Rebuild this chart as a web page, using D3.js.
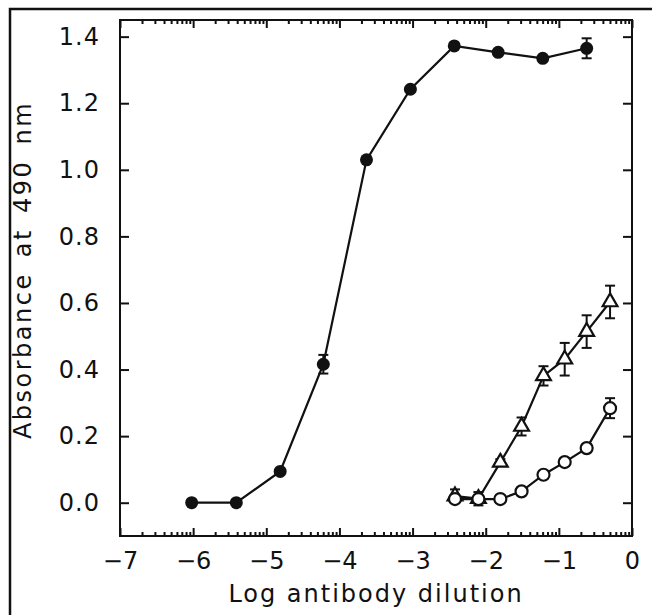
<!DOCTYPE html>
<html>
<head>
<meta charset="utf-8">
<script src="https://cdn.jsdelivr.net/npm/d3@7"></script>
<style>
  body { margin: 0; background: #fff; }
  text { font-family: "DejaVu Sans", sans-serif; fill: #111; }
</style>
</head>
<body>
<script>
// filled circles
var logDil1 = [-6.02, -5.41, -4.81, -4.22, -3.63, -3.03, -2.43, -1.83, -1.22, -0.62];
var absorb1 = [0.0, 0.0, 0.094, 0.416, 1.030, 1.242, 1.372, 1.353, 1.335, 1.365];
var err1    = [0, 0, 0, 0.028, 0, 0, 0, 0, 0, 0.03];

// open triangles
var logDil2 = [-2.42, -2.10, -1.80, -1.51, -1.21, -0.92, -0.62, -0.30];
var absorb2 = [0.02, 0.012, 0.121, 0.229, 0.381, 0.431, 0.514, 0.603];
var err2    = [0.02, 0.02, 0.01, 0.027, 0.029, 0.049, 0.049, 0.049];

// open circles
var logDil3 = [-2.42, -2.10, -1.80, -1.51, -1.21, -0.92, -0.62, -0.30];
var absorb3 = [0.011, 0.011, 0.011, 0.034, 0.084, 0.122, 0.164, 0.284];
var err3    = [0, 0, 0, 0.01, 0.01, 0.01, 0.01, 0.03];

var xTicks = [-7, -6, -5, -4, -3, -2, -1, 0];
var yTicks = [0.0, 0.2, 0.4, 0.6, 0.8, 1.0, 1.2, 1.4];

var xLabel = "Log antibody dilution";
var yLabel = "Absorbance at 490 nm";

function toPoints(xs, ys, es) {
  return xs.map(function(x, i) { return {x: x, y: ys[i], e: es[i]}; });
}

var series = [
  {points: toPoints(logDil1, absorb1, err1), shape: "filled"},
  {points: toPoints(logDil2, absorb2, err2), shape: "triangle"},
  {points: toPoints(logDil3, absorb3, err3), shape: "circle"}
];

var W = 652, H = 615;
var margin = {top: 20, right: 20, bottom: 79, left: 120};
var width = W - margin.left - margin.right;
var height = H - margin.top - margin.bottom;

var svg = d3.select("body").append("svg")
  .attr("width", W)
  .attr("height", H);

// outer frame of the scanned figure
svg.append("rect")
  .attr("x", 10).attr("y", 9)
  .attr("width", 800).attr("height", 800)
  .attr("fill", "none")
  .attr("stroke", "#111")
  .attr("stroke-width", 2.5);

var g = svg.append("g")
  .attr("transform", "translate(" + margin.left + "," + margin.top + ")");

var xScale = d3.scaleLinear().domain([-7, 0]).range([0, width]);
var yScale = d3.scaleLinear().domain([-0.1, 1.45]).range([height, 0]);

// minor ticks on x, log spaced inside each unit
var minorX = [];
for (var n = -7; n < 0; n++) {
  for (var k = 2; k <= 9; k++) minorX.push(n + Math.log10(k));
}

function styleAxis(sel) {
  sel.select(".domain").remove();
  sel.selectAll(".tick line").attr("stroke", "#111").attr("stroke-width", 2);
}

// bottom axis: major + minor ticks pointing in
g.append("g")
  .attr("transform", "translate(0," + height + ")")
  .call(d3.axisTop(xScale).tickValues(minorX).tickSize(4).tickFormat(""))
  .call(styleAxis);
g.append("g")
  .attr("transform", "translate(0," + height + ")")
  .call(d3.axisTop(xScale).tickValues(xTicks).tickSize(8).tickFormat(""))
  .call(styleAxis);
// bottom labels
g.append("g")
  .attr("transform", "translate(0," + height + ")")
  .call(d3.axisBottom(xScale).tickValues(xTicks).tickSize(0).tickPadding(16)
    .tickFormat(function(d) { return d < 0 ? "\u2212" + Math.abs(d) : d; }))
  .call(function(s) {
    s.select(".domain").remove();
    s.selectAll("text").style("font-size", "24px").attr("fill", "#111");
  });

// top axis
g.append("g")
  .call(d3.axisBottom(xScale).tickValues(minorX).tickSize(4).tickFormat(""))
  .call(styleAxis);
g.append("g")
  .call(d3.axisBottom(xScale).tickValues(xTicks).tickSize(8).tickFormat(""))
  .call(styleAxis);

// left axis
g.append("g")
  .call(d3.axisRight(yScale).tickValues(yTicks).tickSize(9).tickFormat(""))
  .call(styleAxis);
g.append("g")
  .call(d3.axisLeft(yScale).tickValues(yTicks).tickSize(0).tickPadding(20).tickFormat(d3.format(".1f")))
  .call(function(s) {
    s.select(".domain").remove();
    s.selectAll("text").style("font-size", "24px").attr("fill", "#111").attr("letter-spacing", 1);
  });

// right axis
g.append("g")
  .attr("transform", "translate(" + width + ",0)")
  .call(d3.axisLeft(yScale).tickValues(yTicks).tickSize(9).tickFormat(""))
  .call(styleAxis);

// plot frame
g.append("rect")
  .attr("width", width).attr("height", height)
  .attr("fill", "none")
  .attr("stroke", "#111")
  .attr("stroke-width", 2);

// axis titles
svg.append("text")
  .attr("x", margin.left + width / 2)
  .attr("y", 602)
  .attr("text-anchor", "middle")
  .attr("letter-spacing", 2)
  .style("font-size", "24px")
  .text(xLabel);

svg.append("text")
  .attr("transform", "translate(31," + (margin.top + height / 2 - 8) + ") rotate(-90)")
  .attr("text-anchor", "middle")
  .attr("letter-spacing", 2.5)
  .attr("word-spacing", 5)
  .style("font-size", "24px")
  .text(yLabel);

var line = d3.line()
  .x(function(d) { return xScale(d.x); })
  .y(function(d) { return yScale(d.y); });

series.forEach(function(s) {
  g.append("path")
    .datum(s.points)
    .attr("d", line)
    .attr("fill", "none")
    .attr("stroke", "#111")
    .attr("stroke-width", 2.2);
});

// error bars
series.forEach(function(s) {
  var withErr = s.points.filter(function(d) { return d.e > 0; });
  var eb = g.append("g").selectAll("g")
    .data(withErr)
    .enter()
    .append("g")
    .attr("stroke", "#111")
    .attr("stroke-width", 2);
  eb.append("line")
    .attr("x1", function(d) { return xScale(d.x); })
    .attr("x2", function(d) { return xScale(d.x); })
    .attr("y1", function(d) { return yScale(d.y + d.e); })
    .attr("y2", function(d) { return yScale(d.y - d.e); });
  eb.append("line")
    .attr("x1", function(d) { return xScale(d.x) - 5; })
    .attr("x2", function(d) { return xScale(d.x) + 5; })
    .attr("y1", function(d) { return yScale(d.y + d.e); })
    .attr("y2", function(d) { return yScale(d.y + d.e); });
  eb.append("line")
    .attr("x1", function(d) { return xScale(d.x) - 5; })
    .attr("x2", function(d) { return xScale(d.x) + 5; })
    .attr("y1", function(d) { return yScale(d.y - d.e); })
    .attr("y2", function(d) { return yScale(d.y - d.e); });
});

// markers
var tri = d3.symbol().type(d3.symbolTriangle).size(95);

series.forEach(function(s) {
  var m = g.append("g").selectAll("path")
    .data(s.points)
    .enter();
  if (s.shape == "filled") {
    m.append("circle")
      .attr("cx", function(d) { return xScale(d.x); })
      .attr("cy", function(d) { return yScale(d.y); })
      .attr("r", 6.5)
      .attr("fill", "#111");
  } else if (s.shape == "circle") {
    m.append("circle")
      .attr("cx", function(d) { return xScale(d.x); })
      .attr("cy", function(d) { return yScale(d.y); })
      .attr("r", 6)
      .attr("fill", "#fff")
      .attr("stroke", "#111")
      .attr("stroke-width", 2.2);
  } else {
    m.append("path")
      .attr("d", tri)
      .attr("transform", function(d) {
        return "translate(" + xScale(d.x) + "," + yScale(d.y) + ")";
      })
      .attr("fill", "#fff")
      .attr("stroke", "#111")
      .attr("stroke-width", 2.2);
  }
});
</script>
</body>
</html>
